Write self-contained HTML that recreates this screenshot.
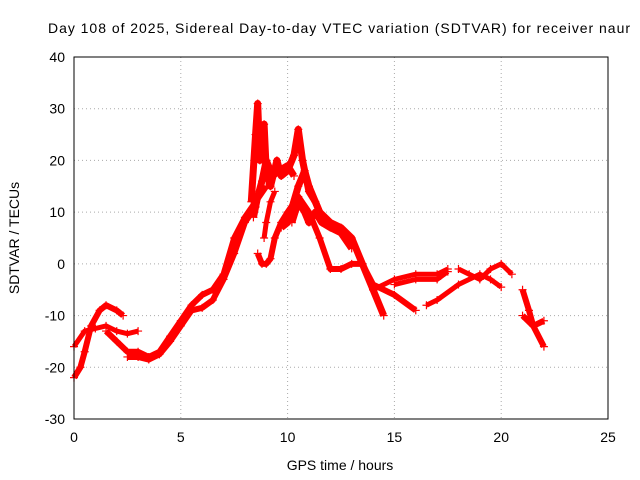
<!DOCTYPE html>
<html><head><meta charset="utf-8"><style>
body{margin:0;background:#fff}
svg{display:block;font-family:"Liberation Sans",sans-serif}
</style></head><body>
<svg id="chart" width="640" height="480">
<text x="339" y="33" text-anchor="middle" font-size="14" textLength="582">Day 108 of 2025, Sidereal Day-to-day VTEC variation (SDTVAR) for receiver naur</text>
<text x="340" y="470" text-anchor="middle" font-size="14">GPS time / hours</text>
<text transform="translate(19,238) rotate(-90)" text-anchor="middle" font-size="14">SDTVAR / TECUs</text>
<g id="grid"></g><g id="marks"></g>
<rect x="74" y="57" width="534" height="362" fill="none" stroke="#000" stroke-width="1"/>
</svg>
<script>
const xTicks=[0,5,10,15,20,25];
const yTicks=[-30,-20,-10,0,10,20,30,40];
const trackA=[[0,-22],[0.3,-20],[0.5,-17],[0.8,-12],[1.2,-9],[1.5,-8],[2,-9],[2.3,-10]];
const trackB=[[0,-16],[0.5,-13],[1,-12.5],[1.5,-12],[2,-13],[2.5,-13.5],[3,-13]];
const trackC=[[1.5,-13],[2,-15],[2.5,-17],[3,-17],[3.5,-18],[4,-17],[4.5,-14],[5,-11],[5.5,-8],[6,-6],[6.5,-5],[7,-2],[7.5,5],[8,9],[8.5,12],[9,15]];
const trackD=[[2.5,-18],[3,-18],[3.5,-18.5],[4,-17.5],[4.5,-15],[5,-12],[5.5,-9],[6,-8.5],[6.5,-7],[7,-3],[7.5,2],[8,8],[8.5,11]];
const trackPeak=[[8.3,12],[8.5,25],[8.6,31],[8.7,20],[8.8,25],[8.9,27],[9,18],[9.2,15],[9.5,20],[9.7,17],[10,18],[10.3,21],[10.5,26],[10.7,20],[11,14],[11.3,12],[11.5,10],[12,8],[12.5,7],[13,5],[13.5,0],[14,-5],[14.5,-10]];
const trackDip=[[8.6,2],[8.8,0],[9,0],[9.2,1],[9.4,5],[9.7,8],[10,10],[10.5,13],[11,10],[11.5,5],[12,-1],[12.5,-1],[13,0],[13.5,0],[14,-4],[15,-6],[16,-9]];
const trackP2=[[8.4,9],[8.6,13],[8.8,16],[9,20],[9.3,17],[9.6,18],[10,19],[10.3,17]];
const trackP3=[[10.2,8],[10.5,12],[10.8,10],[11,8],[11.3,10],[11.6,8],[12,7],[12.5,6],[13,3]];
const trackP4=[[9.7,7],[10,8],[10.5,15],[10.8,18],[11,15],[11.5,10],[11.8,8]];
const trackP5=[[8.9,5],[9,8],[9.2,12],[9.4,14]];
const trackE=[[14,-5],[15,-3],[16,-2],[17,-2],[17.5,-1]];
const trackF=[[15,-4],[16,-3],[17,-3],[17.5,-1.5]];
const trackG=[[16.5,-8],[17,-7],[18,-4],[19,-2],[19.5,-3],[20,-4.5]];
const trackH=[[18,-1],[18.5,-2],[19,-3],[19.5,-1],[20,0],[20.5,-2]];
const trackI=[[21,-5],[21.3,-9],[21.5,-12],[22,-16]];
const trackJ=[[21,-10],[21.5,-12],[22,-11]];
const tracks=[trackA,trackB,trackC,trackD,trackPeak,trackDip,trackP2,trackP3,trackP4,trackP5,trackE,trackF,trackG,trackH,trackI,trackJ];
const widths=[6,5,6,6,7,6,7,7,7,5,5,5,5,5,6,6];
const X0=74,X1=608,Y0=419,Y1=57;
const sx=v=>X0+(v-0)/25*(X1-X0);
const sy=v=>Y0-(v+30)/70*(Y0-Y1);
const NS="http://www.w3.org/2000/svg";
const grid=document.getElementById('grid'),marks=document.getElementById('marks');
function mk(t,a,p){const e=document.createElementNS(NS,t);for(const k in a)e.setAttribute(k,a[k]);p.appendChild(e);return e;}
xTicks.forEach(v=>{
 const l=mk('line',{x1:sx(v),x2:sx(v),y1:Y1,y2:Y0,stroke:'#aaa','stroke-dasharray':'1,3'},grid);
 
 
 const t=mk('text',{x:sx(v),y:Y0+23,'text-anchor':'middle','font-size':14},grid);t.textContent=v;
 
 
});
yTicks.forEach(v=>{
 const l=mk('line',{x1:X0,x2:X1,y1:sy(v),y2:sy(v),stroke:'#aaa','stroke-dasharray':'1,3'},grid);
 
 
 const t=mk('text',{x:X0-9,y:sy(v)+5,'text-anchor':'end','font-size':14},grid);t.textContent=v;
 
 
});
tracks.forEach((tr,i)=>{
 const pl=mk('polyline',{points:tr.map(p=>sx(p[0])+','+sy(p[1])).join(' '),fill:'none',stroke:'#f00','stroke-width':widths[i],'stroke-linejoin':'round'},marks);
 
 
 tr.forEach(p=>{
  const x=sx(p[0]),y=sy(p[1]);
  const m=mk('path',{d:`M${x-4},${y}H${x+4}M${x},${y-4}V${y+4}`,stroke:'#f00','stroke-width':1.2},marks);
  
  
 });
});
</script>
</body></html>
